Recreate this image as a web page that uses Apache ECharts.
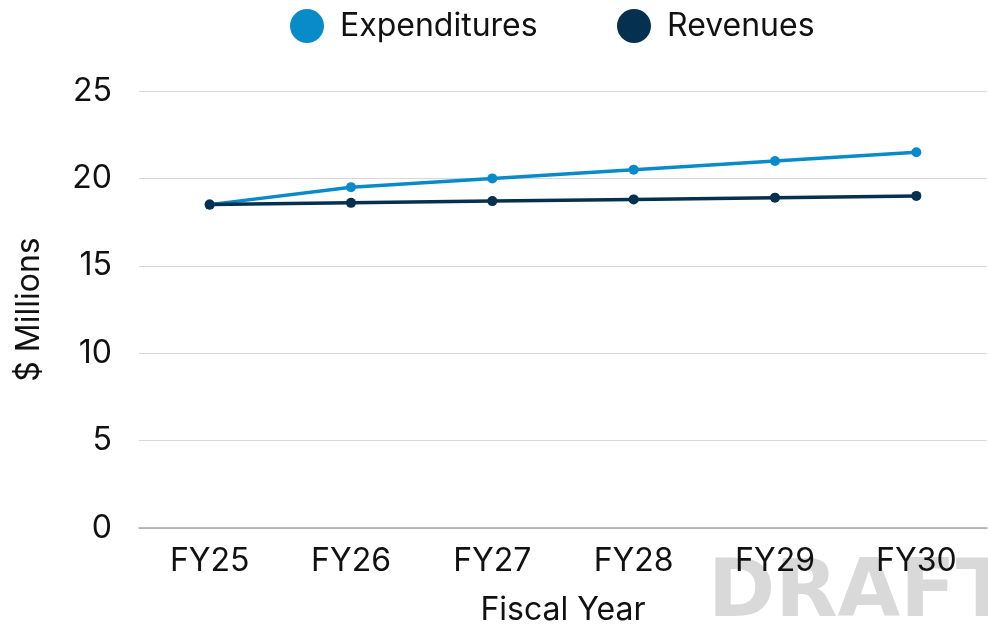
<!DOCTYPE html>
<html><head><meta charset="utf-8">
<script src="https://cdn.jsdelivr.net/npm/echarts@6/dist/echarts.min.js"></script>
<style>html,body{margin:0;padding:0;background:#fff}#c{width:988px;height:626px}</style>
</head><body><div id="c"></div>
<script>
const categories = ['FY25','FY26','FY27','FY28','FY29','FY30'];
const expenditures = [18.5, 19.5, 20.0, 20.5, 21.0, 21.5];
const revenues = [18.5, 18.6, 18.7, 18.8, 18.9, 19.0];
const yTicks = {min: 0, max: 25, interval: 5};
const FONT = 'Inter';
const FS = 32;
const legendBase = {
  top: 9, padding: 0, itemWidth: 34, itemHeight: 34, icon: 'circle',
  textStyle: {fontSize: FS, color: '#111', fontFamily: FONT, padding: [0,0,0,11]}
};
const chart = echarts.init(document.getElementById('c'));
chart.setOption({
  animation: false,
  textStyle: {fontFamily: FONT},
  legend: [
    Object.assign({}, legendBase, {left: 290, data: ['Expenditures']}),
    Object.assign({}, legendBase, {left: 617, data: ['Revenues']})
  ],
  grid: {left: 139, right: 1, top: 91, bottom: 98, containLabel: false, outerBoundsMode: 'none'},
  graphic: [{
    type: 'text', left: 708, top: 554, z: -1,
    style: {text: 'DRAFT', fontSize: 81, fontWeight: 'bold', fill: '#d9d9d9', fontFamily: 'DejaVu Sans'}
  }],
  xAxis: {
    type: 'category', data: categories, boundaryGap: true,
    name: 'Fiscal Year', nameLocation: 'middle', nameGap: 66,
    nameTextStyle: {fontSize: FS, color: '#111', fontFamily: FONT},
    axisLine: {lineStyle: {color: '#a6a6a6', width: 1.5}},
    axisTick: {show: false},
    axisLabel: {fontSize: FS, color: '#111', margin: 17, fontFamily: FONT}
  },
  yAxis: {
    type: 'value', min: yTicks.min, max: yTicks.max, interval: yTicks.interval,
    name: '$ Millions', nameLocation: 'middle', nameGap: 94,
    nameTextStyle: {fontSize: FS, color: '#111', fontFamily: FONT},
    axisLine: {show: false}, axisTick: {show: false},
    axisLabel: {fontSize: FS, color: '#111', margin: 27, fontFamily: FONT},
    splitLine: {lineStyle: {color: '#d9d9d9', width: 1}}
  },
  series: [
    {name: 'Expenditures', type: 'line', data: expenditures, symbol: 'circle', symbolSize: 10,
     itemStyle: {color: '#0a8bc9'}, lineStyle: {width: 3.5, color: '#0a8bc9'}},
    {name: 'Revenues', type: 'line', data: revenues, symbol: 'circle', symbolSize: 10,
     itemStyle: {color: '#05304f'}, lineStyle: {width: 3.5, color: '#05304f'}}
  ]
});
</script></body></html>
